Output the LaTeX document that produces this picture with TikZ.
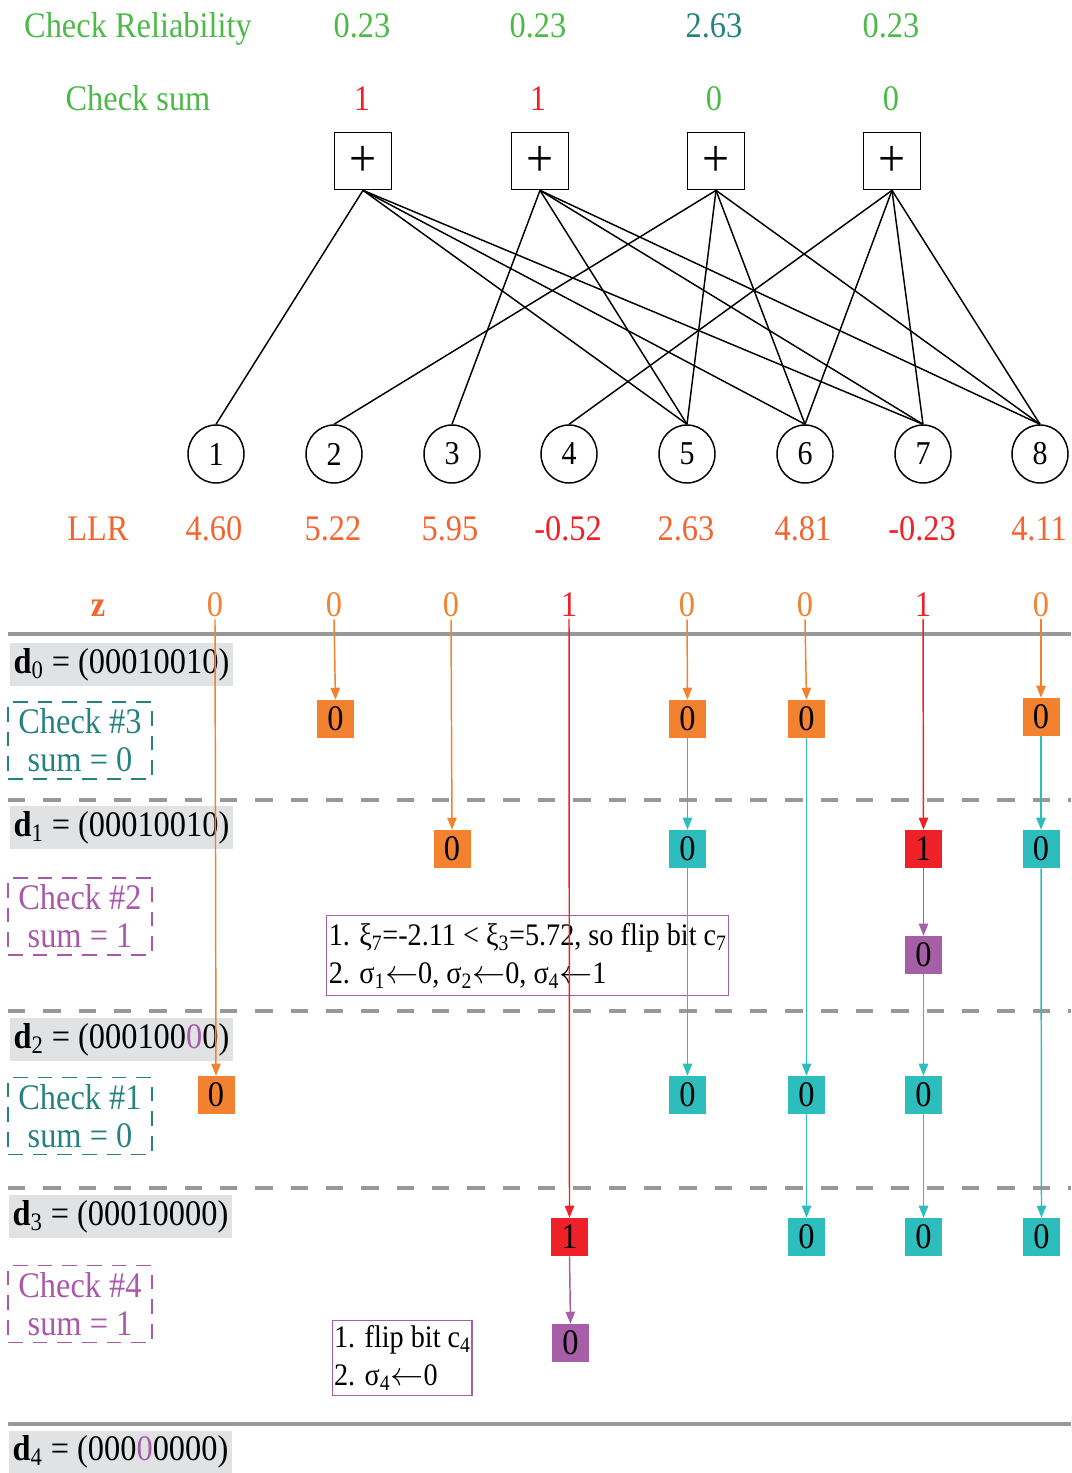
\documentclass[tikz,border=0pt]{standalone}
\usepackage{fontspec}
\setmainfont{Liberation Serif}[FakeStretch=0.9]
\usetikzlibrary{arrows.meta,shapes.geometric}

\definecolor{hgreen}{RGB}{76,185,72}
\definecolor{hteal}{RGB}{38,130,128}
\definecolor{hred}{RGB}{237,33,39}
\definecolor{llrorange}{RGB}{242,101,49}
\definecolor{borange}{RGB}{243,130,48}
\definecolor{bteal}{RGB}{45,189,189}
\definecolor{bpurple}{RGB}{166,94,166}
\definecolor{tpurple}{RGB}{170,88,170}
\definecolor{sepgray}{RGB}{152,152,155}
\definecolor{lblgray}{RGB}{225,226,228}

\newcommand{\bigfont}{\fontsize{27}{28.5}\selectfont}
\newcommand{\notefont}{\fontsize{23.5}{28.5}\selectfont}
\newcommand{\getsarrow}{\ensuremath{\leftarrow}}

\begin{document}
\begin{tikzpicture}[x=0.75pt,y=-0.75pt,
  hdr/.style={anchor=base,inner sep=2pt,font=\bigfont},
  chknode/.style={draw,line width=1.3pt,minimum width=42.75pt,minimum height=42.75pt,inner sep=0pt,font=\fontsize{40}{40}\selectfont},
  varnode/.style={ellipse,draw,line width=1.1pt,minimum width=42pt,minimum height=43.5pt,inner sep=0pt,font=\fontsize{25}{30}\selectfont},
  edge/.style={line width=1.1pt},
  bitbox/.style={minimum width=27.75pt,minimum height=28.5pt,inner sep=0pt,font=\bigfont},
  obox/.style={bitbox,fill=borange},
  tbox/.style={bitbox,fill=bteal},
  rbox/.style={bitbox,fill=hred},
  pbox/.style={bitbox,fill=bpurple},
  flow/.style={-{Triangle[length=9pt,width=7pt]},line width=1.1pt},
  sepsolid/.style={draw=sepgray,line width=3pt},
  sepdash/.style={draw=sepgray,line width=2.4pt,dash pattern=on 13pt off 13.5pt},
  dlabel/.style={fill=lblgray,minimum width=167.25pt,minimum height=32.25pt,inner sep=0pt,font=\bigfont},
  stepbox/.style={draw,line width=1.1pt,dash pattern=on 11pt off 7.5pt,minimum width=108pt,minimum height=57.75pt,inner sep=0pt,align=center,font=\bigfont},
  notebox/.style={draw=bpurple,line width=1.1pt,inner xsep=1pt,inner ysep=1.5pt,align=left,font=\notefont,anchor=north west}
]
\useasboundingbox (0,0) rectangle (1071,1473);

% ---- header rows
\node[hdr,text=hgreen] (relT) at (138,38) {Check Reliability};
\node[hdr,text=hgreen] (rel1) at (362,38) {0.23};
\node[hdr,text=hgreen] (rel2) at (538,38) {0.23};
\node[hdr,text=hteal]  (rel3) at (714,38) {2.63};
\node[hdr,text=hgreen] (rel4) at (891,38) {0.23};

\node[hdr,text=hgreen] (sumT) at (138,111) {Check sum};
\node[hdr,text=hred]   (sum1) at (362,111) {1};
\node[hdr,text=hred]   (sum2) at (538,111) {1};
\node[hdr,text=hgreen] (sum3) at (714,111) {0};
\node[hdr,text=hgreen] (sum4) at (891,111) {0};

% ---- Tanner graph
\node[chknode] (c1) at (363,161) {+};
\node[chknode] (c2) at (540,161) {+};
\node[chknode] (c3) at (716,161) {+};
\node[chknode] (c4) at (892,161) {+};

\foreach \i/\x in {1/216,2/334,3/452,4/569,5/687,6/805,7/923,8/1040}
  \node[varnode] (v\i) at (\x,454) {\i};

\foreach \c/\v in {1/1,1/5,1/6,1/7, 2/3,2/5,2/7,2/8, 3/2,3/5,3/6,3/8, 4/4,4/6,4/7,4/8}
  \draw[edge] (c\c.south) -- (v\v.north);

% ---- LLR row
\node[hdr,text=llrorange] (llrT) at (98,540) {LLR};
\node[hdr,text=llrorange] (l1) at (214,540) {4.60};
\node[hdr,text=llrorange] (l2) at (333,540) {5.22};
\node[hdr,text=llrorange] (l3) at (450,540) {5.95};
\node[hdr,text=hred]      (l4) at (568,540) {-0.52};
\node[hdr,text=llrorange] (l5) at (686,540) {2.63};
\node[hdr,text=llrorange] (l6) at (803,540) {4.81};
\node[hdr,text=hred]      (l7) at (922,540) {-0.23};
\node[hdr,text=llrorange] (l8) at (1039,540) {4.11};

% ---- hard decisions z
\node[hdr,text=llrorange,font=\bigfont\bfseries] (zT) at (98,616) {z};
\node[hdr,text=borange] (z1) at (215,616) {0};
\node[hdr,text=borange] (z2) at (334,616) {0};
\node[hdr,text=borange] (z3) at (451,616) {0};
\node[hdr,text=hred]    (z4) at (569,616) {1};
\node[hdr,text=borange] (z5) at (687,616) {0};
\node[hdr,text=borange] (z6) at (805,616) {0};
\node[hdr,text=hred]    (z7) at (923,616) {1};
\node[hdr,text=borange] (z8) at (1041,616) {0};

% ---- stage separators
\draw[sepsolid] (8,634) -- (1071,634);
\draw[sepdash] (8,800) -- (1071,800);
\draw[sepdash] (8,1011) -- (1071,1011);
\draw[sepdash] (8,1188) -- (1071,1188);
\draw[sepsolid] (8,1424) -- (1071,1424);

% ---- decision vectors
\node[dlabel] (d0) at (121.5,664.5) {{\bfseries d}\textsubscript{0} = (00010010)};
\node[dlabel] (d1) at (121.5,827.5) {{\bfseries d}\textsubscript{1} = (00010010)};
\node[dlabel] (d2) at (121.5,1039.5) {{\bfseries d}\textsubscript{2} = (000100\textcolor{bpurple}{0}0)};
\node[dlabel] (d3) at (120.5,1216.5) {{\bfseries d}\textsubscript{3} = (00010000)};
\node[dlabel] (d4) at (120.5,1452) {{\bfseries d}\textsubscript{4} = (000\textcolor{bpurple}{0}0000)};

% ---- check steps
\node[stepbox,draw=hteal,text=hteal]     (s3) at (80,740.5) {Check \#3\\sum = 0};
\node[stepbox,draw=tpurple,text=tpurple] (s2) at (80,916.5) {Check \#2\\sum = 1};
\node[stepbox,draw=hteal,text=hteal]     (s1) at (80,1116) {Check \#1\\sum = 0};
\node[stepbox,draw=tpurple,text=tpurple] (s4) at (80,1304) {Check \#4\\sum = 1};

% ---- flip notes
\node[notebox,minimum width=301.5pt,minimum height=60pt] (n1) at (326,915)
  {1. ξ\textsubscript{7}=-2.11 < ξ\textsubscript{3}=5.72, so flip bit c\textsubscript{7}\\
   2. σ\textsubscript{1}\getsarrow0, σ\textsubscript{2}\getsarrow0, σ\textsubscript{4}\getsarrow1};
\node[notebox,minimum width=99.75pt,minimum height=56.25pt] (n2) at (332,1320)
  {1. flip bit c\textsubscript{4}\\
   2. σ\textsubscript{4}\getsarrow0};

% ---- bit boxes per stage
\node[obox] (a2) at (335.5,719) {0};
\node[obox] (a5) at (687.5,719) {0};
\node[obox] (a6) at (806.5,719) {0};
\node[obox] (a8) at (1041,717) {0};

\node[obox] (b3) at (452,849) {0};
\node[tbox] (b5) at (687.5,849) {0};
\node[rbox] (b7) at (923.5,849) {1};
\node[tbox] (b8) at (1041,849) {0};

\node[pbox] (p7) at (923.5,955) {0};

\node[obox] (e1) at (216,1095) {0};
\node[tbox] (e5) at (687.5,1095) {0};
\node[tbox] (e6) at (806.5,1095) {0};
\node[tbox] (e7) at (923.5,1095) {0};

\node[rbox] (f4) at (569.5,1237) {1};
\node[tbox] (f6) at (806.5,1237) {0};
\node[tbox] (f7) at (923.5,1237) {0};
\node[tbox] (f8) at (1041.5,1237) {0};

\node[pbox] (q4) at (570.5,1343) {0};

% ---- bit flows
\draw[flow,borange] (z1.south) -- (e1.north);
\draw[flow,borange] (z2.south) -- (a2.north);
\draw[flow,borange] (z3.south) -- (b3.north);
\draw[flow,hred]    (z4.south) -- (f4.north);
\draw[flow,borange] (z5.south) -- (a5.north);
\draw[flow,borange] (z6.south) -- (a6.north);
\draw[flow,hred]    (z7.south) -- (b7.north);
\draw[flow,borange] (z8.south) -- (a8.north);

\draw[flow,bteal] (a5.south) -- (b5.north);
\draw[flow,bteal] (b5.south) -- (e5.north);
\draw[flow,bteal] (a6.south) -- (e6.north);
\draw[flow,bteal] (e6.south) -- (f6.north);
\draw[flow,bpurple] (b7.south) -- (p7.north);
\draw[flow,bteal] (p7.south) -- (e7.north);
\draw[flow,bteal] (e7.south) -- (f7.north);
\draw[flow,bteal] (a8.south) -- (b8.north);
\draw[flow,bteal] (b8.south) -- (f8.north);
\draw[flow,bpurple] (f4.south) -- (q4.north);
\end{tikzpicture}
\end{document}
